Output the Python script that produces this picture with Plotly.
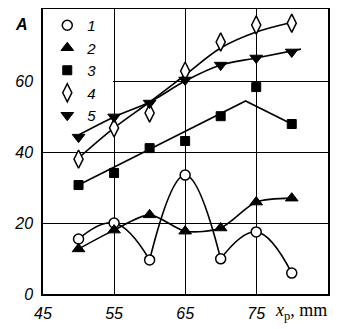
import plotly.graph_objects as go

x_vals = [50, 55, 60, 65, 70, 75, 80]
s1 = [15.5, 20.0, 9.6, 33.5, 9.9, 17.5, 5.9]
s2 = [12.7, 18.0, 22.3, 17.7, 18.6, 25.9, 27.0]
s3 = [30.7, 34.1, 41.1, 43.1, 50.1, 58.3, 47.9]
s4 = [38.0, 46.8, 51.0, 62.8, 71.0, 75.8, 76.3]
s5 = [44.2, 49.9, 53.8, 60.3, 64.5, 66.5, 68.2]

# trend lines
fit3_x = [50, 73.5, 80]
fit3_y = [30.7, 54.4, 47.9]
fit4_x = [50, 55, 60, 65, 70, 75, 79.5]
fit4_y = [38.3, 46.8, 54.1, 61.7, 69.3, 73.8, 76.3]
fit5_x = [50, 55, 60, 65, 70, 75, 81.3]
fit5_y = [44.8, 49.9, 54.1, 60.0, 64.5, 66.5, 69.0]

legend_names = ["1", "2", "3", "4", "5"]
x_ticks = [45, 55, 65, 75]
y_ticks = [0, 20, 40, 60]

LW = 1.6
fig = go.Figure()

# series 1 curves: three humps
for a, b in [(0, 3), (2, 5), (4, 7)]:
    fig.add_trace(go.Scatter(x=x_vals[a:b], y=s1[a:b], mode="lines",
                             line=dict(color="black", width=LW, shape="spline", smoothing=1.2),
                             showlegend=False, hoverinfo="skip"))
fig.add_trace(go.Scatter(x=x_vals, y=s2, mode="lines",
                         line=dict(color="black", width=LW, shape="spline", smoothing=0.8),
                         showlegend=False, hoverinfo="skip"))
fig.add_trace(go.Scatter(x=fit3_x, y=fit3_y, mode="lines",
                         line=dict(color="black", width=LW), showlegend=False, hoverinfo="skip"))
fig.add_trace(go.Scatter(x=fit4_x, y=fit4_y, mode="lines",
                         line=dict(color="black", width=LW, shape="spline"),
                         showlegend=False, hoverinfo="skip"))
fig.add_trace(go.Scatter(x=fit5_x, y=fit5_y, mode="lines",
                         line=dict(color="black", width=LW, shape="spline"),
                         showlegend=False, hoverinfo="skip"))

styles = [
    dict(symbol="circle", color="white", size=10, line=dict(color="black", width=1.5)),
    dict(symbol="triangle-up", color="black", size=11, line=dict(color="black", width=1)),
    dict(symbol="square", color="black", size=9, line=dict(color="black", width=1)),
    dict(symbol="diamond-tall", color="white", size=13, line=dict(color="black", width=1.5)),
    dict(symbol="triangle-down", color="black", size=11, line=dict(color="black", width=1)),
]
for name, ys, st in zip(legend_names, [s1, s2, s3, s4, s5], styles):
    fig.add_trace(go.Scatter(x=x_vals, y=ys, mode="markers", name=name, marker=st))

tickfont = dict(family="Liberation Sans", size=16, color="black", style="italic")
fig.update_xaxes(range=[45, 85.1], tickmode="array", tickvals=x_ticks,
                 ticktext=[str(v) for v in x_ticks],
                 showgrid=True, gridcolor="#000000", gridwidth=1,
                 showline=True, linecolor="black", linewidth=1.5, mirror=True,
                 zeroline=False, ticks="outside", ticklen=4, tickcolor="white",
                 tickfont=tickfont)
fig.update_yaxes(range=[0, 80.3], tickmode="array", tickvals=y_ticks,
                 ticktext=[str(v) for v in y_ticks],
                 showgrid=True, gridcolor="#000000", gridwidth=1,
                 showline=True, linecolor="black", linewidth=1.5, mirror=True,
                 zeroline=False, ticks="outside", ticklen=5, tickcolor="white",
                 tickfont=tickfont)

# blank legend panel: hides the grid behind the legend, stays under the data
fig.add_shape(type="rect", xref="x", yref="y", x0=45, x1=54.85, y0=41, y1=80.3,
              layer="between", fillcolor="white", line=dict(width=0))

fig.add_annotation(text="<b><i>A</i></b>", xref="paper", yref="paper", x=-0.075, y=0.944,
                   xanchor="center", yanchor="middle", showarrow=False,
                   font=dict(family="Liberation Sans", size=16, color="black"))
fig.add_annotation(text="<i>x</i><sub>p</sub>, mm", xref="x", yref="paper", x=77.4, y=0,
                   xanchor="left", yanchor="top", yshift=-4, showarrow=False,
                   font=dict(family="Liberation Serif", size=18, color="black"))

# page body has an 8px margin: size the figure so the plot lands where the reference has it
fig.update_layout(
    template="none",
    width=342, height=321,
    margin=dict(l=35, r=22, t=1, b=35),
    paper_bgcolor="white", plot_bgcolor="white",
    showlegend=True,
    legend=dict(x=0.015, y=1.0, xanchor="left", yanchor="top", bgcolor="rgba(0,0,0,0)",
                font=dict(family="Liberation Sans", size=15, color="black", style="italic"),
                itemwidth=30, tracegroupgap=0, borderwidth=0),
)

fig.write_html("out.html")
